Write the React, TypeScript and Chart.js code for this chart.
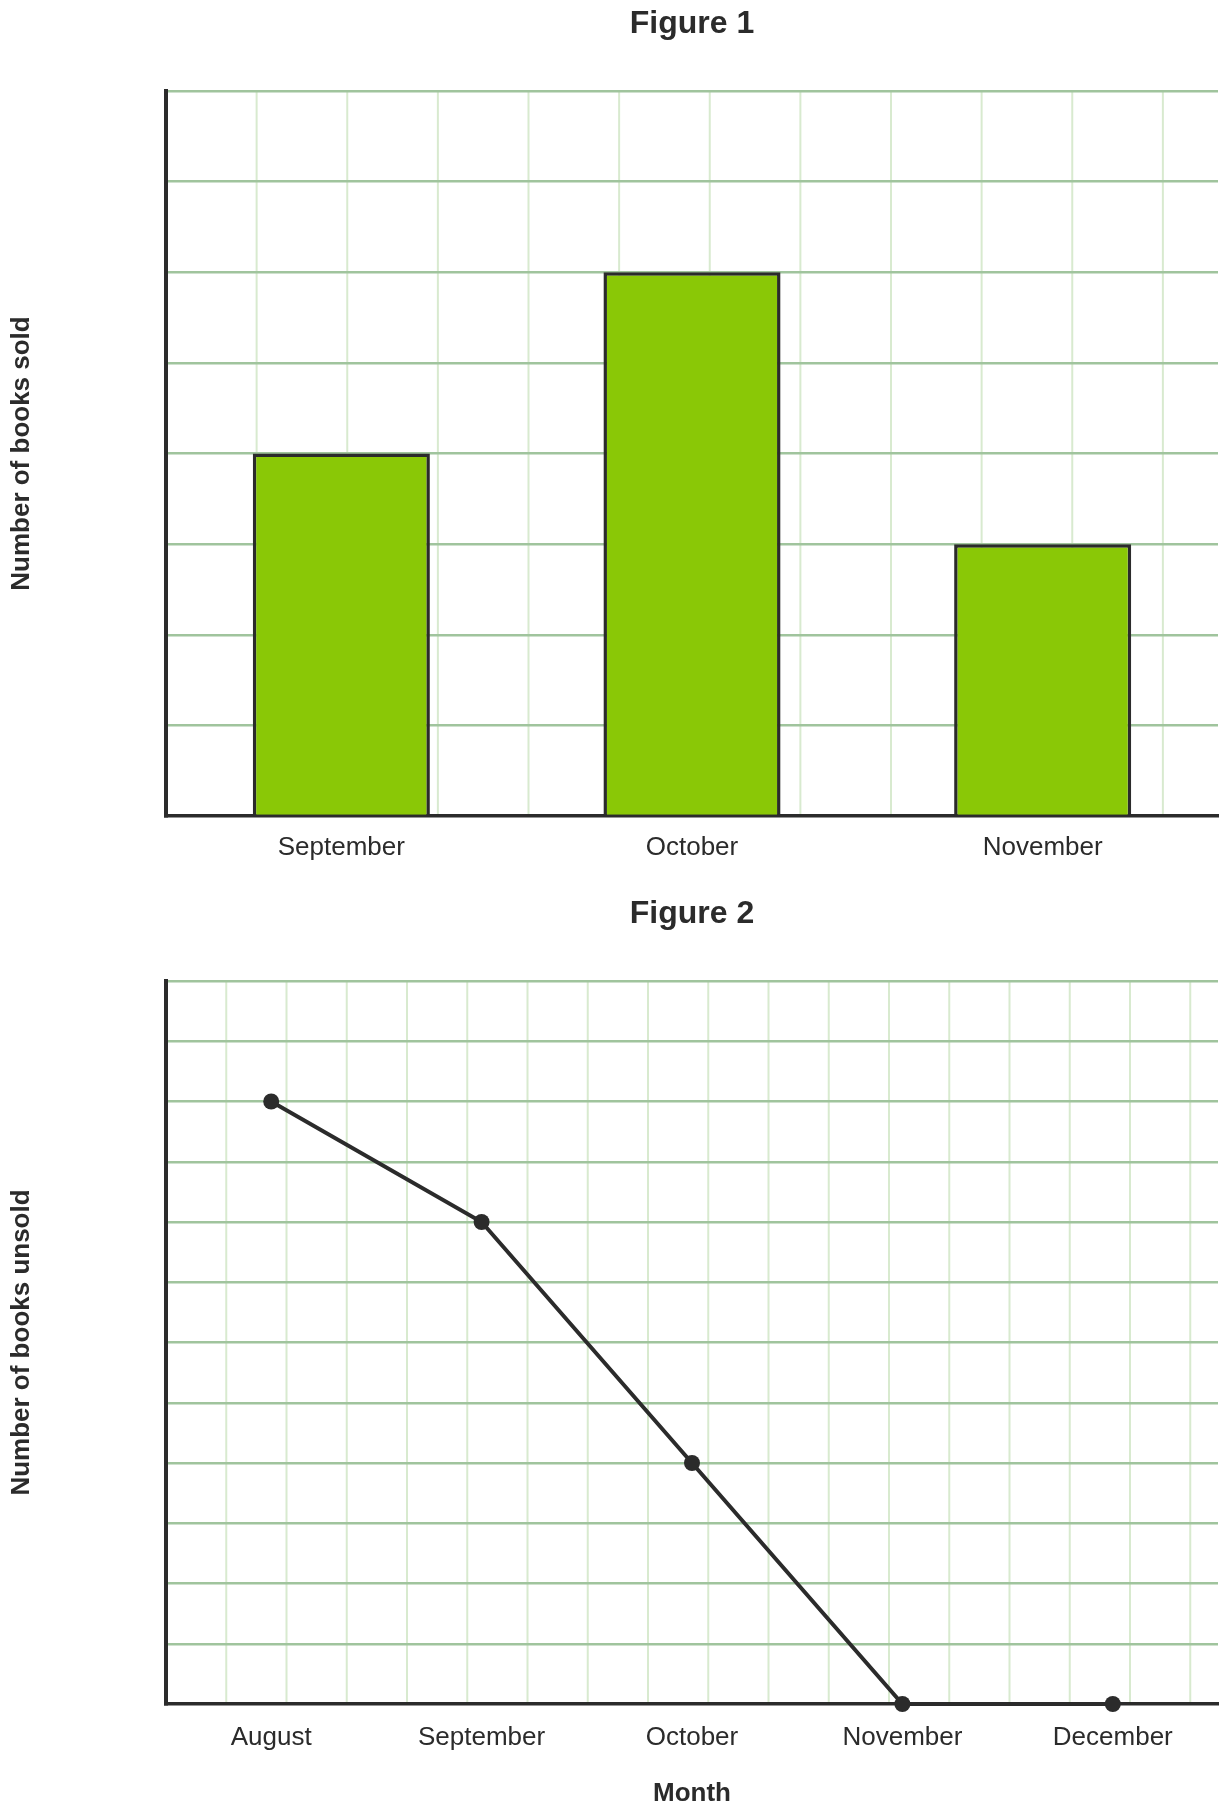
import React, { useEffect, useRef } from 'react';
import { Chart, registerables } from 'chart.js';

Chart.register(...registerables);

// Figure 1: books sold per month (in grid units, the chart has no value ticks)
const soldMonths = ['September', 'October', 'November'];
const booksSold = [4, 6, 3];
const soldMax = 8;

// Figure 2: books unsold per month
const unsoldMonths = ['August', 'September', 'October', 'November', 'December'];
const booksUnsold = [10, 8, 4, 0, 0];
const unsoldMax = 12;

const FONT = '"Liberation Sans", Arial, Helvetica, sans-serif';
const INK = '#2b2b2b';
const GRID_H = '#a0c49d';
const GRID_V = '#d8eacf';

// light vertical lines, spaced like the horizontal ones so the cells are square
const squareGrid = {
  id: 'squareGrid',
  beforeDraw(chart) {
    const { ctx, chartArea } = chart;
    const y = chart.scales.y;
    const cell = Math.abs(y.getPixelForValue(1) - y.getPixelForValue(0));
    ctx.save();
    ctx.strokeStyle = GRID_V;
    ctx.lineWidth = 2;
    for (let x = chartArea.left + cell; x < chartArea.right - 1; x += cell) {
      ctx.beginPath();
      ctx.moveTo(x, chartArea.top);
      ctx.lineTo(x, chartArea.bottom);
      ctx.stroke();
    }
    ctx.restore();
  },
};

const makeOptions = (o) => ({
  responsive: false,
  animation: false,
  devicePixelRatio: 1,
  layout: { padding: { right: 2 }, autoPadding: false },
  plugins: {
    legend: { display: false },
    tooltip: { enabled: false },
    title: {
      display: true,
      text: o.title,
      fullSize: false,
      color: INK,
      font: { family: FONT, size: 32, weight: 'bold', lineHeight: 1 },
      padding: { top: o.titleTop, bottom: o.titleBottom },
    },
  },
  scales: {
    x: {
      offset: true,
      grid: { display: false, drawTicks: false },
      border: { display: true, color: INK, width: 3.5 },
      ticks: {
        color: INK,
        padding: o.tickPad,
        font: { family: FONT, size: 26, lineHeight: 1 },
        maxRotation: 0,
      },
      title: o.xTitle
        ? {
            display: true,
            text: o.xTitle,
            color: INK,
            font: { family: FONT, size: 26, weight: 'bold', lineHeight: 1 },
            padding: { top: 0, bottom: 2 },
          }
        : { display: false },
      afterFit: (s) => {
        s.height = o.xHeight;
      },
    },
    y: {
      min: 0,
      max: o.yMax,
      ticks: { display: false, stepSize: 1 },
      grid: {
        drawTicks: false,
        lineWidth: 2.5,
        color: (c) => (c.tick && c.tick.value === 0 ? 'rgba(0,0,0,0)' : GRID_H),
      },
      border: { display: true, color: INK, width: 4 },
      title: {
        display: true,
        text: o.yTitle,
        color: INK,
        font: { family: FONT, size: 26, weight: 'bold', lineHeight: 1 },
        padding: { top: 1, bottom: 0 },
      },
      afterFit: (s) => {
        s.width = 158;
      },
    },
  },
});

const BarFigure = () => {
  const ref = useRef(null);
  useEffect(() => {
    const chart = new Chart(ref.current.getContext('2d'), {
      type: 'bar',
      data: {
        labels: soldMonths,
        datasets: [
          {
            data: booksSold,
            backgroundColor: '#8ac806',
            borderColor: INK,
            borderWidth: 3.5,
            barPercentage: 0.505,
            categoryPercentage: 1,
          },
        ],
      },
      options: makeOptions({
        title: 'Figure 1',
        titleTop: 0,
        titleBottom: 51,
        tickPad: 19,
        xHeight: 50,
        yMax: soldMax,
        yTitle: 'Number of books sold',
      }),
      plugins: [squareGrid],
    });
    return () => chart.destroy();
  }, []);
  return <canvas ref={ref} width={1212} height={858} style={{ display: 'block' }} />;
};

const LineFigure = () => {
  const ref = useRef(null);
  useEffect(() => {
    const chart = new Chart(ref.current.getContext('2d'), {
      type: 'line',
      data: {
        labels: unsoldMonths,
        datasets: [
          {
            data: booksUnsold,
            borderColor: INK,
            borderWidth: 4,
            tension: 0,
            pointRadius: 8,
            pointBorderWidth: 0,
            pointBackgroundColor: INK,
            clip: false,
          },
        ],
      },
      options: makeOptions({
        title: 'Figure 2',
        titleTop: 32,
        titleBottom: 51,
        tickPad: 21,
        xHeight: 105,
        xTitle: 'Month',
        yMax: unsoldMax,
        yTitle: 'Number of books unsold',
      }),
      plugins: [squareGrid],
    });
    return () => chart.destroy();
  }, []);
  return <canvas ref={ref} width={1212} height={943} style={{ display: 'block' }} />;
};

export default function App() {
  return (
    <div>
      <BarFigure />
      <LineFigure />
    </div>
  );
}
